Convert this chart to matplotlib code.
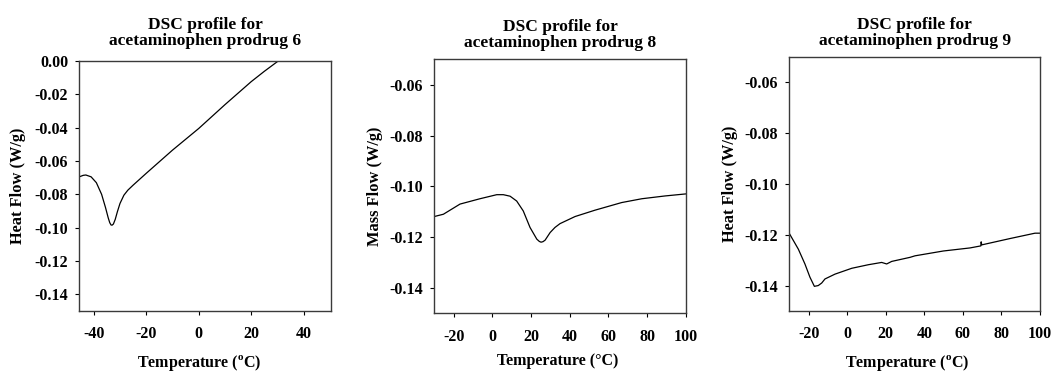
import matplotlib
matplotlib.use("Agg")
import matplotlib.pyplot as plt
from matplotlib.ticker import FormatStrFormatter

plt.rcParams['font.family'] = ['Liberation Serif', 'DejaVu Serif']
plt.rcParams['font.weight'] = 'bold'
plt.rcParams['axes.unicode_minus'] = False
plt.rcParams['mathtext.fontset'] = 'custom'
plt.rcParams['mathtext.rm'] = 'Liberation Serif:bold'
plt.rcParams['mathtext.bf'] = 'Liberation Serif:bold'

# ---- data ----
t6 = [-45.5, -44, -43, -41, -39, -37, -35.5, -34.5, -33.9, -33.4, -33.0, -32.5,
      -31.8, -31.0, -30, -28.5, -27, -25, -20, -10, 0, 10, 20, 25, 30.3, 33]
hf6 = [-0.0695, -0.0686, -0.0684, -0.0695, -0.0730, -0.0800, -0.0880, -0.0940,
       -0.0970, -0.0984, -0.0985, -0.0978, -0.0950, -0.0905, -0.0855, -0.0805,
       -0.0775, -0.0745, -0.0674, -0.0535, -0.0405, -0.0262, -0.0124, -0.0062,
       0.0, 0.003]

t8 = [-30, -25.3, -16.7, -6.4, 2.3, 5.7, 9.2, 12.6, 16, 19.5, 23, 24.3, 25.2,
      26.2, 27.3, 29.9, 32.4, 35, 42.8, 53.1, 66.9, 77.3, 89.3, 100]
mf8 = [-0.1119, -0.1110, -0.1070, -0.1049, -0.1033, -0.1033, -0.1039, -0.1058,
       -0.1097, -0.1162, -0.1208, -0.1217, -0.1220, -0.1218, -0.1212, -0.1182,
       -0.1162, -0.1147, -0.1119, -0.1094, -0.1064, -0.1049, -0.1038, -0.1030]

t9 = [-30, -25.3, -21.9, -19.3, -17, -15, -13.2, -11.5, -6.3, 2.4, 11, 17.9,
      20.5, 23.1, 32.6, 35.2, 49.9, 63.7, 69.3, 69.5, 69.8, 84.5, 97.4, 100]
hf9 = [-0.1195, -0.1257, -0.1315, -0.1367, -0.1403, -0.1400, -0.1390, -0.1374,
       -0.1355, -0.1332, -0.1318, -0.1309, -0.1315, -0.1305, -0.1289, -0.1283,
       -0.1264, -0.1252, -0.1244, -0.1228, -0.1240, -0.1215, -0.1194, -0.1194]

titles = ["DSC profile for\nacetaminophen prodrug 6",
          "DSC profile for\nacetaminophen prodrug 8",
          "DSC profile for\nacetaminophen prodrug 9"]
xlabels = ["Temperature ($^{\\mathrm{o}}$C)", "Temperature (°C)",
           "Temperature ($^{\\mathrm{o}}$C)"]
ylabels = ["Heat Flow (W/g)", "Mass Flow (W/g)", "Heat Flow (W/g)"]
xticks = [[-40, -20, 0, 20, 40], [-20, 0, 20, 40, 60, 80, 100],
          [-20, 0, 20, 40, 60, 80, 100]]
yticks = [[0.0, -0.02, -0.04, -0.06, -0.08, -0.10, -0.12, -0.14],
          [-0.06, -0.08, -0.10, -0.12, -0.14],
          [-0.06, -0.08, -0.10, -0.12, -0.14]]
xlims = [(-45.5, 50.3), (-30, 100), (-30, 100)]
ylims = [(-0.15, 0.0), (-0.15, -0.05), (-0.15, -0.05)]

W, H = 1053, 371
fig = plt.figure(figsize=(W / 100, H / 100), dpi=100)

# pixel boxes: left, right, top, bottom
boxes = [(79.3, 330.7, 61, 311), (434.3, 685.7, 59.3, 313.3), (789.3, 1040, 56.7, 311)]
title_pad = [11.5, 8.5, 8.7]
xlab_x = [0.476, 0.489, 0.472]
ylab_px = [18.3, 375, 730]
series = [(t6, hf6), (t8, mf8), (t9, hf9)]

for i in range(3):
    l, r, t, b = boxes[i]
    ax = fig.add_axes([l / W, (H - b) / H, (r - l) / W, (b - t) / H])
    x, y = series[i]
    ax.plot(x, y, color='black', lw=0.9)
    ax.set_xlim(*xlims[i])
    ax.set_ylim(*ylims[i])
    ax.set_xticks(xticks[i])
    ax.set_yticks(yticks[i])
    ax.yaxis.set_major_formatter(FormatStrFormatter('%.2f'))
    for s in ax.spines.values():
        s.set_color('#3a3a3a')
        s.set_linewidth(1.0)
    ax.tick_params(axis='x', direction='out', length=3, width=0.8, pad=8,
                   labelsize=11.5, colors='black')
    ax.tick_params(axis='y', direction='out', length=3, width=0.8, pad=5,
                   labelsize=11.5, colors='black')
    for lab in ax.get_xticklabels() + ax.get_yticklabels():
        lab.set_fontweight('bold')
    ax.set_title(titles[i], fontsize=12.5, fontweight='bold', pad=title_pad[i],
                 linespacing=1.0)
    ax.set_xlabel(xlabels[i], fontsize=11.5, fontweight='bold')
    ax.xaxis.set_label_coords(xlab_x[i], -(353 - b) / (b - t))
    ax.set_ylabel(ylabels[i], fontsize=11.8, fontweight='bold', va='center')
    ax.yaxis.set_label_coords(-(l - ylab_px[i]) / (r - l), 0.5)

fig.savefig("out.png", dpi=100)
